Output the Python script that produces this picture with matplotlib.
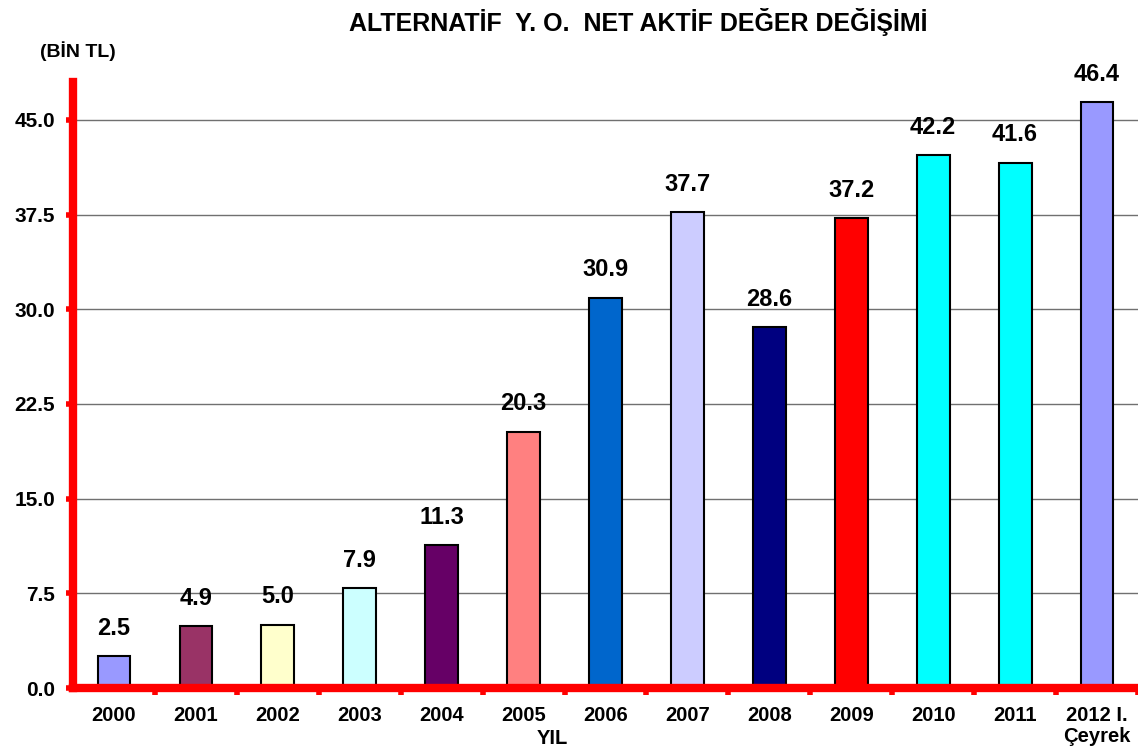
import matplotlib.pyplot as plt

plt.rcParams['font.family'] = ['Liberation Sans', 'DejaVu Sans']
plt.rcParams['font.weight'] = 'bold'

# yearly net asset value (thousand TL)
years = ["2000", "2001", "2002", "2003", "2004", "2005", "2006",
         "2007", "2008", "2009", "2010", "2011", "2012 I.\nÇeyrek"]
values = [2.5, 4.9, 5.0, 7.9, 11.3, 20.3, 30.9, 37.7, 28.6, 37.2, 42.2, 41.6, 46.4]
colors = ["#9999FF", "#993366", "#FFFFCC", "#CCFFFF", "#660066", "#FF8080",
          "#0066CC", "#CCCCFF", "#000080", "#FF0000", "#00FFFF", "#00FFFF", "#9999FF"]
yticks = [0, 7.5, 15, 22.5, 30, 37.5, 45]

fig = plt.figure(figsize=(11.38, 7.55), dpi=100)
ax = fig.add_axes([73/1138, 1-688/755, 1065/1138, 606/755])

x = range(len(values))
ax.bar(x, values, width=0.4, color=colors, edgecolor="black", linewidth=1.5, zorder=3)
for i, v in enumerate(values):
    ax.text(i, v + 1.3, f"{v:.1f}", ha="center", va="bottom", fontsize=17, fontweight="bold")

ax.set_xlim(-0.5, len(values) - 0.5)
ax.set_ylim(0, 48)
ax.set_yticks(yticks)
ax.set_yticklabels([f"{t:.1f}" for t in yticks], fontsize=15, fontweight="bold")
ax.set_xticks(list(x))
ax.set_xticklabels(years, fontsize=14.5, fontweight="bold", linespacing=1.1)
ax.tick_params(axis="x", length=0, pad=13)
ax.set_xticks([i + 0.5 for i in x], minor=True)
ax.tick_params(axis="x", which="minor", length=5, width=4, color="red", direction="out")
ax.tick_params(axis="y", length=5, width=4, color="red", direction="out", pad=8)
ax.yaxis.grid(True, color="#707070", linewidth=1, zorder=0)

for s in ["top", "right"]:
    ax.spines[s].set_visible(False)
for s in ["left", "bottom"]:
    ax.spines[s].set_color("red")
    ax.spines[s].set_linewidth(6)
    ax.spines[s].set_zorder(4)

fig.text(638/1138, 1-22/755, "ALTERNATİF  Y. O.  NET AKTİF DEĞER DEĞİŞİMİ",
         ha="center", va="center", fontsize=18, fontweight="bold")
fig.text(78/1138, 1-51/755, "(BİN TL)", ha="center", va="center", fontsize=14, fontweight="bold")
fig.text(552/1138, 1-738/755, "YIL", ha="center", va="center", fontsize=14.5, fontweight="bold")

fig.savefig("out.png", dpi=100)
